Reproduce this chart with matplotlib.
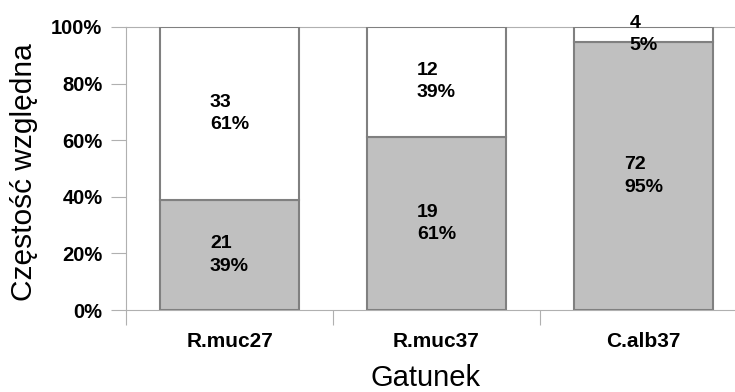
import matplotlib
matplotlib.use("Agg")
import matplotlib.pyplot as plt
import numpy as np

plt.rcParams['font.family'] = ['Liberation Sans', 'DejaVu Sans']

categories = ["R.muc27", "R.muc37", "C.alb37"]
lower_counts = [21, 19, 72]
upper_counts = [33, 12, 4]
y_ticks = [0, 0.2, 0.4, 0.6, 0.8, 1.0]

lower = np.array(lower_counts, dtype=float)
upper = np.array(upper_counts, dtype=float)
total = lower + upper
lower_share = lower / total
upper_share = upper / total

W, H = 735, 392
fig = plt.figure(figsize=(W / 100, H / 100), dpi=100)
ax = fig.add_axes([126 / W, 1 - 310 / H, 621 / W, 283 / H])

axis_grey = "#b0b0b0"
x = np.arange(len(categories))
ax.bar(x, lower_share, width=0.67, color="#c0c0c0", edgecolor="#808080", linewidth=1.5, zorder=3)
ax.bar(x, upper_share, width=0.67, bottom=lower_share, color="white", edgecolor="#808080", linewidth=1.5, zorder=3)

label_kw = dict(ha="center", va="center", multialignment="left", fontsize=14,
                fontweight="bold", linespacing=1.4, zorder=4, clip_on=False)
for xi, n, s in zip(x, lower_counts, lower_share):
    ax.text(xi, s / 2, f"{n}\n{s:.0%}", **label_kw)
for xi, n, s, b in zip(x, upper_counts, upper_share, lower_share):
    ax.text(xi, b + s / 2, f"{n}\n{s:.0%}", **label_kw)

ax.set_xlim(-0.5, 2.5)
ax.set_ylim(0, 1)

# category boundaries carry the tick marks, centres carry the labels
ax.set_xticks(np.arange(len(categories)) - 0.5)
ax.set_xticklabels([])
ax.set_xticks(x, minor=True)
ax.set_xticklabels(categories, minor=True, fontsize=15, fontweight="bold")
ax.tick_params(axis="x", which="major", length=11, width=0.8, color=axis_grey, direction="out")
ax.tick_params(axis="x", which="minor", length=0, pad=16)

ax.set_yticks(y_ticks)
ax.set_yticklabels([f"{t:.0%}" for t in y_ticks], fontsize=14.5, fontweight="bold")
ax.tick_params(axis="y", length=11, width=0.8, color=axis_grey, direction="out", pad=6)

for side in ["left", "bottom", "top"]:
    ax.spines[side].set_color(axis_grey)
    ax.spines[side].set_linewidth(0.8)
ax.spines["right"].set_visible(False)

fig.text(425 / W, 1 - 378 / H, "Gatunek", ha="center", va="center", fontsize=21)
fig.text(24 / W, 1 - 172 / H, "Częstość względna", ha="center", va="center", rotation=90, fontsize=21.5)

fig.savefig("out.png", dpi=100)
